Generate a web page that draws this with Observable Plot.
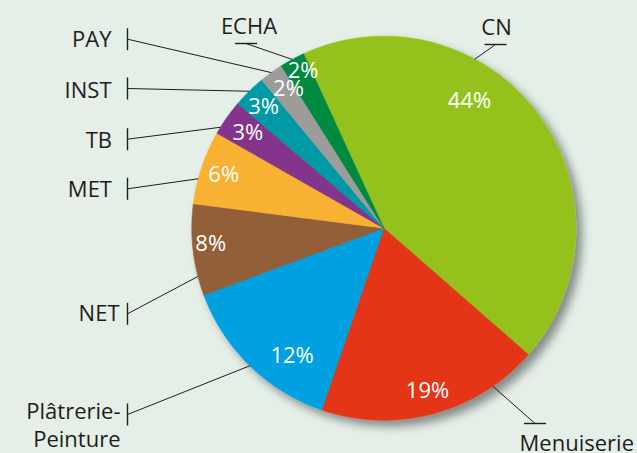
<!DOCTYPE html>
<html><head><meta charset="utf-8">
<script src="https://cdn.jsdelivr.net/npm/d3@7"></script>
<script src="https://cdn.jsdelivr.net/npm/@observablehq/plot@0.6"></script>
<style>
html,body{margin:0;padding:0;background:#e5efe8;}
#chart svg{display:block;}
</style></head><body><div id="chart"></div><script>
// ---- data ----
const categories = ["CN", "Menuiserie", "Plâtrerie-Peinture", "NET", "MET", "TB", "INST", "PAY", "ECHA"];
const outerLabels = ["CN", "Menuiserie", "Plâtrerie-\nPeinture", "NET", "MET", "TB", "INST", "PAY", "ECHA"];
const shares = [43.3, 18.8, 14.1, 7.7, 6.2, 3.0, 2.8, 2.0, 2.1];
// percentages printed on the slices
const pctLabels = ["44%", "19%", "12%", "8%", "6%", "3%", "3%", "2%", "2%"];
const colors = ["#95c11f", "#e43415", "#00a0e1", "#925f37", "#f8b133", "#84358b", "#009aa7", "#9c9c9b", "#00893f"];

// ---- layout ----
const W = 637, H = 453;
const CX = 383.3, CY = 227.7, R = 192, START = -24.7;
const labelFrac = [0.376, 0.5, 0.33, 0.55, 0.49, 0.5, 0.48, 0.71, 0.67];
const labelRad  = [0.80, 0.88, 0.82, 0.905, 0.878, 0.865, 0.89, 0.88, 0.92];
const leaderFrac = [0.34, 0.21, 0.5, 0.21, 0.34, 0.19, 0.5, 0.5, 0.5];
// anchor of each callout: [x, y, side]
const anchors = [[495, 44, "top"], [534.5, 423, "bottom"], [127, 414, "left"], [127, 313.3, "left"],
  [127, 188.3, "left"], [127, 138.7, "left"], [127, 88, "left"], [127, 38.7, "left"], [245.5, 43, "top"]];
const textOffset = [[1, -10], [99, 27], [-7, 32.7], [-8, 6.8], [-15.5, 8], [-15.5, 8.5], [-16, 9.2], [-16, 8], [3, -9.8]];
const BAR = 11;

const total = d3.sum(shares);
let acc = START;
const slices = categories.map((c, i) => {
  const a0 = acc, a1 = acc + shares[i] / total * 360;
  acc = a1;
  return {c, i, a0, a1};
});
const pt = (deg, rr) => {
  const t = deg * Math.PI / 180;
  return [CX + rr * Math.sin(t), CY - rr * Math.cos(t)];
};

const piePts = slices.flatMap(s => {
  const pts = [{c: s.c, x: CX, y: CY}];
  const n = Math.max(2, Math.ceil((s.a1 - s.a0) / 0.5));
  for (let k = 0; k <= n; k++) {
    const [x, y] = pt(s.a0 + (s.a1 - s.a0) * k / n, R);
    pts.push({c: s.c, x, y});
  }
  pts.push({c: s.c, x: CX, y: CY});
  return pts;
});

const pctData = slices.map(s => {
  const [x, y] = pt(s.a0 + (s.a1 - s.a0) * labelFrac[s.i], R * labelRad[s.i]);
  return {x, y, t: pctLabels[s.i]};
});

const leaders = slices.map(s => {
  const [x2, y2] = pt(s.a0 + (s.a1 - s.a0) * leaderFrac[s.i], R);
  const [ax, ay] = anchors[s.i];
  return {x1: ax, y1: ay, x2, y2};
});

const bars = anchors.map(([x, y, side]) => side === "left"
  ? {x1: x, y1: y - BAR, x2: x, y2: y + BAR}
  : {x1: x - BAR, y1: y, x2: x + BAR, y2: y});

const outer = anchors.map(([x, y, side], i) => ({
  x: x + textOffset[i][0], y: y + textOffset[i][1], side, t: outerLabels[i]
}));

const chart = Plot.plot({
  width: W, height: H, margin: 0,
  x: {domain: [0, W], range: [0, W], axis: null},
  y: {domain: [0, H], range: [0, H], axis: null},
  color: {domain: categories, range: colors},
  style: {background: "#e5efe8", fontFamily: "'Open Sans', sans-serif", overflow: "visible"},
  marks: [
    Plot.line(piePts, {x: "x", y: "y", z: "c", fill: "c", stroke: "c", strokeWidth: 0.6, curve: "linear"}),
    Plot.link(leaders, {x1: "x1", y1: "y1", x2: "x2", y2: "y2", stroke: "#1d1d1b", strokeWidth: 1}),
    Plot.link(bars, {x1: "x1", y1: "y1", x2: "x2", y2: "y2", stroke: "#1d1d1b", strokeWidth: 1.4}),
    Plot.text(pctData, {x: "x", y: "y", text: "t", fill: "white", fontSize: 22}),
    Plot.text(outer.filter(d => d.side === "left"), {x: "x", y: "y", text: "t", fill: "#1d1d1b", fontSize: 22, textAnchor: "end", lineAnchor: "bottom", lineHeight: 1.26}),
    Plot.text(outer.filter(d => d.side === "top"), {x: "x", y: "y", text: "t", fill: "#1d1d1b", fontSize: 22, textAnchor: "middle", lineAnchor: "bottom"}),
    Plot.text(outer.filter(d => d.side === "bottom"), {x: "x", y: "y", text: "t", fill: "#1d1d1b", fontSize: 22, textAnchor: "end", lineAnchor: "bottom"})
  ]
});

// soft drop shadow under the pie
const svg = d3.select(chart);
const defs = svg.insert("defs", ":first-child");
const f = defs.append("filter").attr("id", "pieShadow")
  .attr("x", "-20%").attr("y", "-20%").attr("width", "140%").attr("height", "140%");
f.append("feDropShadow").attr("dx", 6).attr("dy", 6).attr("stdDeviation", 5)
  .attr("flood-color", "#000").attr("flood-opacity", 0.42);
svg.select('g[aria-label="line"]').attr("filter", "url(#pieShadow)");

document.getElementById("chart").appendChild(chart);
</script></body></html>
